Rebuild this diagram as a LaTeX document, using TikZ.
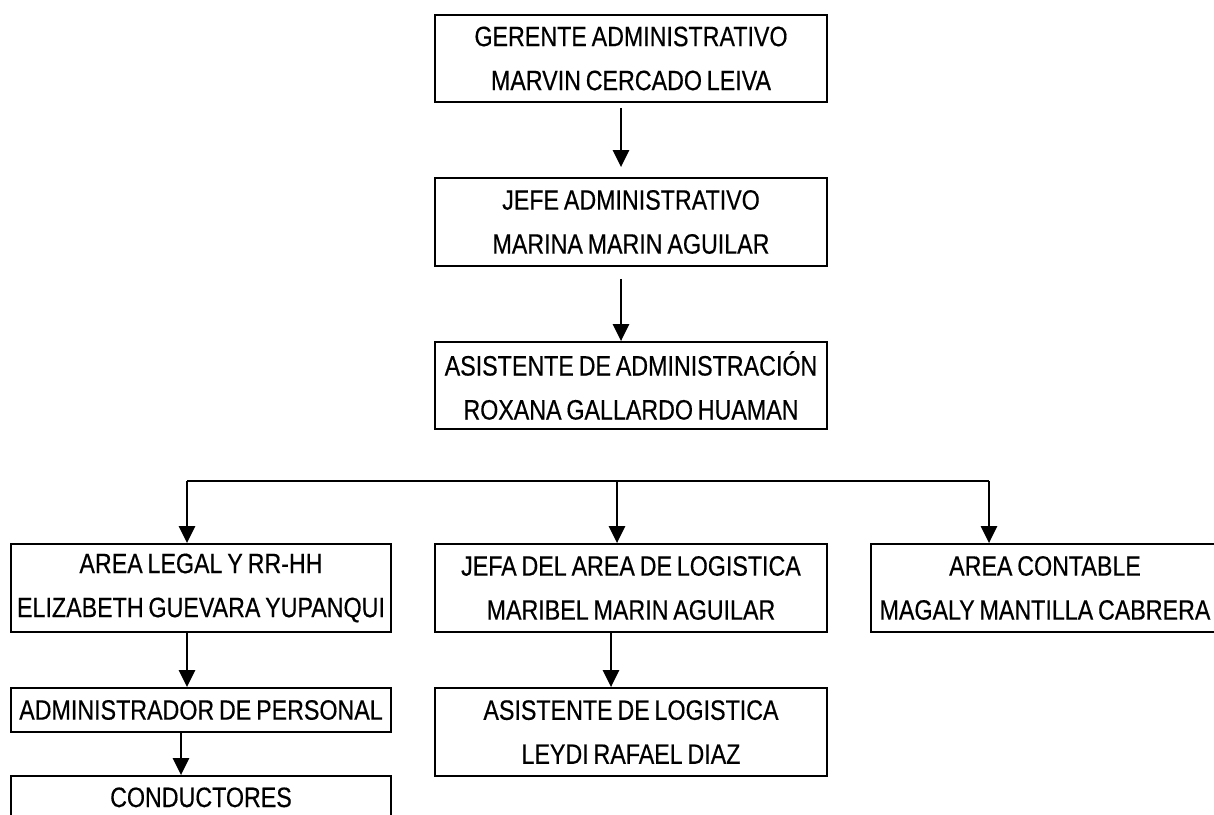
\documentclass[tikz,border=0pt]{standalone}
\usepackage{fontspec}
\setmainfont{Liberation Sans}[FakeStretch=0.83, WordSpace=0.75, FakeBold=0.4]
\usetikzlibrary{arrows.meta}

\begin{document}
\begin{tikzpicture}[x=1pt, y=-1pt,
  box/.style={draw, line width=1.8pt, rectangle, inner sep=0pt, align=center,
              font=\fontsize{28}{44}\selectfont},
  wide/.style={minimum width=392pt, minimum height=88pt},
  left/.style={minimum width=380pt, minimum height=88pt},
  label/.style={inner sep=0pt, font=\fontsize{28}{44}\selectfont},
  link/.style={line width=2.4pt, -{Triangle[length=17pt, width=16pt]}},
  bus/.style={line width=2.8pt},
]
\useasboundingbox (0,0) rectangle (1214,814);
\clip (0,0) rectangle (1214,814);

% management chain
\node[box, wide, minimum height=87pt] (gerente) at (631,58.5)
  {GERENTE ADMINISTRATIVO\\MARVIN CERCADO LEIVA};
\node[box, wide] (jefe) at (631,222)
  {JEFE ADMINISTRATIVO\\MARINA MARIN AGUILAR};
\node[box, wide, minimum height=87pt] (asis) at (631,385.5)
  {ASISTENTE DE ADMINISTRACIÓN\\ROXANA GALLARDO HUAMAN};

\draw[link, shorten <=5pt, shorten >=10pt]
  ([xshift=-10pt]gerente.south) -- ([xshift=-10pt]jefe.north);
\draw[link, shorten <=12pt]
  ([xshift=-10pt]jefe.south) -- ([xshift=-10pt]asis.north);

% areas
\node[box, left] (legal) at (201,588)
  {AREA LEGAL Y RR-HH\\ELIZABETH GUEVARA YUPANQUI};
\node[box, wide] (jefa) at (631,588)
  {JEFA DEL AREA DE LOGISTICA\\MARIBEL MARIN AGUILAR};
\node[box, minimum width=348pt, minimum height=88pt] (contable) at (1045,588)
  {AREA CONTABLE\\MAGALY MANTILLA CABRERA};

% distribution bar
\coordinate (busL) at (187,481);
\coordinate (busM) at (617,481);
\coordinate (busR) at (989,481);
\draw[bus] (busL) -- (busR);
\draw[link] (busL) -- (legal.north -| busL);
\draw[link] (busM) -- (jefa.north -| busM);
\draw[link] (busR) -- (contable.north -| busR);

% personnel branch
\node[box, minimum width=380pt, minimum height=44pt] (admper) at (201,710)
  {ADMINISTRADOR DE PERSONAL};
\node[box, left] (cond) at (201,820) {};
\node[label, anchor=base] (condtext) at (201,807) {CONDUCTORES};

\draw[link] (legal.south -| busL) -- (admper.north -| busL);
\draw[link] ([xshift=-20pt]admper.south) -- ([xshift=-20pt]cond.north);

% logistics branch
\node[box, wide] (asislog) at (631,732)
  {ASISTENTE DE LOGISTICA\\LEYDI RAFAEL DIAZ};
\draw[link] ([xshift=-20pt]jefa.south) -- ([xshift=-20pt]asislog.north);
\end{tikzpicture}
\end{document}
